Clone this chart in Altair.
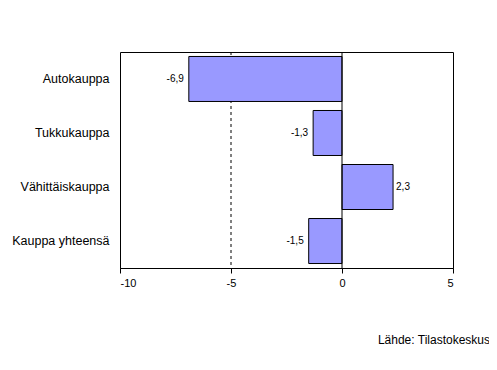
import altair as alt
import pandas as pd

categories = ["Autokauppa", "Tukkukauppa", "Vähittäiskauppa", "Kauppa yhteensä"]
values = [-6.9, -1.3, 2.3, -1.5]
x_ticks = [-10, -5, 0, 5]
source_note = "Lähde: Tilastokeskus"

df = pd.DataFrame({"cat": categories, "val": values})
df["label"] = df["val"].map(lambda v: f"{v:.1f}".replace(".", ","))

FONT = "Liberation Sans"
x_scale = alt.Scale(domain=[-10, 5], nice=False)
y_scale = alt.Scale(domain=categories, paddingInner=0.167, paddingOuter=0.083)

x_axis = alt.Axis(values=x_ticks, title=None, grid=False, tickSize=5, labelPadding=4,
                  labelFontSize=11, labelFont=FONT, labelColor="black",
                  domainColor="black", tickColor="black",
                  labelExpr="datum.value + ''")
y_axis = alt.Axis(title=None, domain=False, ticks=False, labelPadding=11,
                  labelFontSize=12.5, labelFont=FONT, labelColor="black")

base = alt.Chart(df)
bars = base.mark_bar(color="#9999FF", stroke="black", strokeWidth=1).encode(
    x=alt.X("val:Q", scale=x_scale, axis=x_axis),
    y=alt.Y("cat:N", scale=y_scale, axis=y_axis, sort=categories),
)

neg_labels = base.transform_filter("datum.val < 0").mark_text(
    align="right", baseline="middle", dx=-5, fontSize=10, font=FONT, color="black"
).encode(
    x=alt.X("val:Q", scale=x_scale),
    y=alt.Y("cat:N", scale=y_scale, sort=categories),
    text="label:N",
)
pos_labels = base.transform_filter("datum.val >= 0").mark_text(
    align="left", baseline="middle", dx=3, fontSize=10, font=FONT, color="black"
).encode(
    x=alt.X("val:Q", scale=x_scale),
    y=alt.Y("cat:N", scale=y_scale, sort=categories),
    text="label:N",
)

grid_df = pd.DataFrame({"g": [-5]})
dashed = alt.Chart(grid_df).mark_rule(color="black", strokeDash=[3, 3], strokeWidth=1).encode(
    x=alt.X("g:Q", scale=x_scale)
)
zero_df = pd.DataFrame({"z": [0]})
zero_line = alt.Chart(zero_df).mark_rule(color="black", strokeWidth=1).encode(
    x=alt.X("z:Q", scale=x_scale)
)

note_df = pd.DataFrame({"t": [source_note]})
note = alt.Chart(note_df).mark_text(
    align="right", baseline="middle", fontSize=12, font=FONT, color="black"
).encode(text="t:N", x=alt.value(370), y=alt.value(288))

chart = alt.layer(dashed, bars, zero_line, neg_labels, pos_labels, note).properties(
    width=333, height=216,
    autosize=alt.AutoSizeParams(type="none"),
    padding={"left": 112, "top": 44, "right": 36, "bottom": 94},
    background="white",
).configure_view(stroke="black", strokeWidth=1)

chart.save("out.html", embed_options={"renderer": "svg", "actions": False})
